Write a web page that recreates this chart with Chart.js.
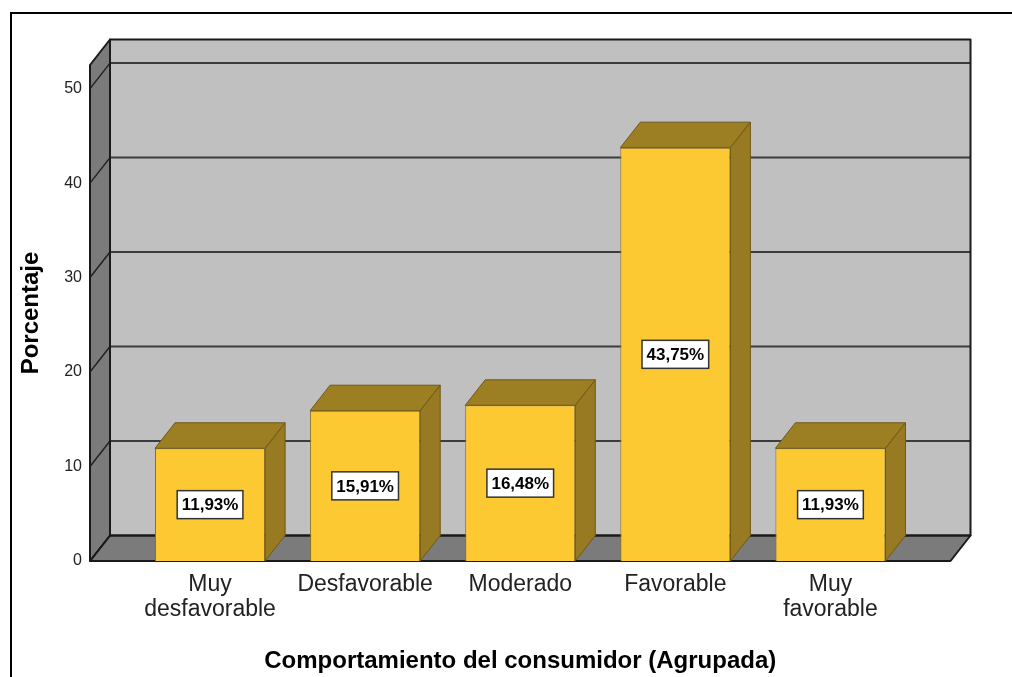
<!DOCTYPE html>
<html>
<head>
<meta charset="utf-8">
<script src="https://cdn.jsdelivr.net/npm/chart.js@4"></script>
<style>
  html, body { margin: 0; padding: 0; background: #fff; }
  canvas { display: block; }
</style>
</head>
<body>
<canvas id="chart" width="1012" height="677"></canvas>
<script>
// datos del gráfico
const categories = [['Muy', 'desfavorable'], 'Desfavorable', 'Moderado', 'Favorable', ['Muy', 'favorable']];
const percentages = [11.93, 15.91, 16.48, 43.75, 11.93];
const valueLabels = ['11,93%', '15,91%', '16,48%', '43,75%', '11,93%'];
const yTicks = [0, 10, 20, 30, 40, 50];

// profundidad del efecto 3D
const DX = 20, DY = 25.5, EXT = 42.5;
const FONT = '"Liberation Sans", Arial, sans-serif';

function poly(ctx, pts, fill, stroke, lw) {
  ctx.beginPath();
  ctx.moveTo(pts[0][0], pts[0][1]);
  for (let i = 1; i < pts.length; i++) ctx.lineTo(pts[i][0], pts[i][1]);
  ctx.closePath();
  if (fill) { ctx.fillStyle = fill; ctx.fill(); }
  if (stroke) { ctx.strokeStyle = stroke; ctx.lineWidth = lw || 1; ctx.stroke(); }
}

function line(ctx, x1, y1, x2, y2, color, lw) {
  ctx.beginPath();
  ctx.moveTo(x1, y1);
  ctx.lineTo(x2, y2);
  ctx.strokeStyle = color;
  ctx.lineWidth = lw;
  ctx.stroke();
}

// paredes, suelo y líneas de la cuadrícula
const walls3d = {
  id: 'walls3d',
  beforeDraw(chart) {
    const ctx = chart.ctx;
    ctx.save();
    // marco exterior
    line(ctx, 10, 13, chart.width, 13, '#000', 2);
    line(ctx, 11, 12, 11, chart.height, '#000', 2);
    ctx.restore();
  },
  beforeDatasetsDraw(chart) {
    const { ctx, chartArea: a, scales: { y } } = chart;
    const x0 = a.left - EXT, x1 = a.right + EXT;
    const yb = y.getPixelForValue(0), yt = a.top;
    ctx.save();
    // pared del fondo
    ctx.fillStyle = '#c0c0c0';
    ctx.fillRect(x0 + DX, yt - DY, x1 - x0, yb - yt);
    // pared izquierda y suelo
    poly(ctx, [[x0, yb], [x0, yt], [x0 + DX, yt - DY], [x0 + DX, yb - DY]], '#7b7b7b');
    poly(ctx, [[x0, yb], [x1, yb], [x1 + DX, yb - DY], [x0 + DX, yb - DY]], '#7b7b7b');
    // cuadrícula
    y.ticks.forEach(t => {
      if (t.value === 0) return;
      const py = y.getPixelForValue(t.value);
      line(ctx, x0 + DX, py - DY, x1 + DX, py - DY, '#3c3c3c', 2);
      line(ctx, x0, py, x0 + DX, py - DY, '#222', 1.5);
    });
    // bordes
    ctx.lineJoin = 'round';
    ctx.strokeStyle = '#1a1a1a';
    ctx.lineWidth = 2;
    ctx.strokeRect(x0 + DX, yt - DY, x1 - x0, yb - yt);
    poly(ctx, [[x0, yb], [x0, yt], [x0 + DX, yt - DY], [x0 + DX, yb - DY]], null, '#1a1a1a', 2);
    poly(ctx, [[x0, yb], [x1, yb], [x1 + DX, yb - DY], [x0 + DX, yb - DY]], null, '#1a1a1a', 2);
    ctx.restore();
  },
  afterDatasetsDraw(chart) {
    const { ctx, scales: { y } } = chart;
    const meta = chart.getDatasetMeta(0);
    ctx.save();
    meta.data.forEach((bar, i) => {
      const { x, y: top, width, base } = bar.getProps(['x', 'y', 'width', 'base'], true);
      const l = x - width / 2, r = x + width / 2;
      // cara superior y lateral
      poly(ctx, [[l, top], [r, top], [r + DX, top - DY], [l + DX, top - DY]], '#9d7f23', '#6e5918', 1);
      poly(ctx, [[r, top], [r + DX, top - DY], [r + DX, base - DY], [r, base]], '#977a21', '#6e5918', 1);
    });
    // etiquetas con el porcentaje
    ctx.font = 'bold 17px ' + FONT;
    ctx.textAlign = 'center';
    ctx.textBaseline = 'middle';
    meta.data.forEach((bar, i) => {
      const cy = y.getPixelForValue(percentages[i] / 2);
      const w = ctx.measureText(valueLabels[i]).width + 9;
      const h = 28;
      ctx.fillStyle = '#fff';
      ctx.fillRect(bar.x - w / 2, cy - h / 2, w, h);
      ctx.strokeStyle = '#333';
      ctx.lineWidth = 1.5;
      ctx.strokeRect(bar.x - w / 2, cy - h / 2, w, h);
      ctx.fillStyle = '#000';
      ctx.fillText(valueLabels[i], bar.x, cy + 1);
    });
    ctx.restore();
  }
};

new Chart(document.getElementById('chart'), {
  type: 'bar',
  data: {
    labels: categories,
    datasets: [{
      data: percentages,
      backgroundColor: '#fdc932',
      borderColor: '#8c7020',
      borderWidth: 1,
      barPercentage: 0.71,
      categoryPercentage: 1
    }]
  },
  options: {
    responsive: false,
    animation: false,
    devicePixelRatio: 1,
    layout: { padding: { top: 65, left: 10, right: 104, bottom: 0 } },
    plugins: { legend: { display: false }, tooltip: { enabled: false } },
    scales: {
      x: {
        grid: { display: false, drawTicks: false },
        border: { display: false },
        ticks: {
          color: '#222',
          padding: 11,
          maxRotation: 0,
          autoSkip: false,
          font: { family: FONT, size: 23, lineHeight: 1.1 }
        },
        title: {
          display: true,
          text: 'Comportamiento del consumidor (Agrupada)',
          color: '#000',
          padding: { top: 0, bottom: 1 },
          font: { family: FONT, size: 24, weight: 'bold' }
        },
        afterFit(scale) { scale.height = 116; }
      },
      y: {
        min: 0,
        max: 52.5,
        grid: { display: false, drawTicks: false },
        border: { display: false },
        afterBuildTicks(scale) { scale.ticks = yTicks.map(v => ({ value: v })); },
        ticks: {
          color: '#222',
          padding: 50.5,
          font: { family: FONT, size: 16 }
        },
        title: {
          display: true,
          text: 'Porcentaje',
          color: '#000',
          padding: { top: 7, bottom: 0 },
          font: { family: FONT, size: 24, weight: 'bold' }
        },
        afterFit(scale) { scale.width = 122.5; }
      }
    }
  },
  plugins: [walls3d]
});
</script>
</body>
</html>
